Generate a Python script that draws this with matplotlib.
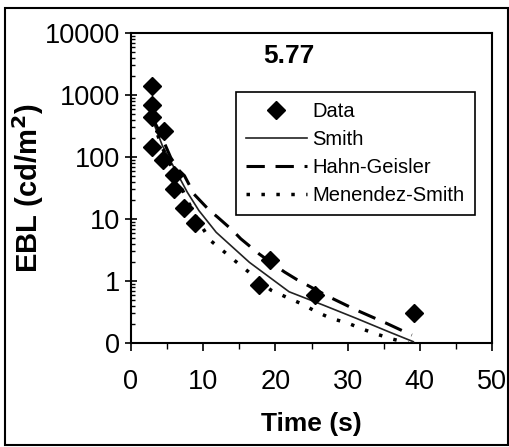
import matplotlib
matplotlib.use("Agg")
import matplotlib.pyplot as plt
from matplotlib.patches import Rectangle

plt.rcParams['font.family'] = ['Liberation Sans', 'DejaVu Sans']

# ---- data ----
data_t = [2.9, 2.9, 2.9, 4.6, 2.9, 4.5, 6.0, 6.0, 7.4, 8.9, 17.7, 19.3, 25.5, 39.2]
data_y = [1400, 700, 440, 260, 146, 90, 51, 31, 15, 8.7, 0.85, 2.2, 0.6, 0.3]

smith_t = [2.9, 3.2, 4.35, 6.2, 7.8, 9.4, 11.8, 16.4, 21.9, 26.6, 31.2, 35.8, 39.1]
smith_y = [420, 337, 152, 60, 27, 13.7, 6.1, 2.0, 0.67, 0.41, 0.25, 0.15, 0.105]

hahn_t = [3.0, 3.9, 5.5, 6.7, 7.4, 8.75, 10.8, 12.0, 14.1, 15.2, 17.8, 21.25, 23.0, 27.5, 31.2, 35.3, 38.9]
hahn_y = [420, 263, 98, 60, 50, 25, 14, 10.7, 6.5, 4.8, 2.7, 1.4, 1.05, 0.55, 0.34, 0.21, 0.134]

mene_t = [3.0, 4.35, 6.2, 7.8, 9.4, 11.0, 12.7, 14.5, 17.0, 19.4, 21.5, 23.6, 25.65, 27.7, 30.0, 32.1, 34.2, 36.3, 38.4]
mene_y = [380, 140, 50, 20, 9, 4.5, 3.1, 2.07, 1.2, 0.71, 0.55, 0.43, 0.32, 0.25, 0.21, 0.167, 0.137, 0.115, 0.1]

y_ticks = [0.1, 1, 10, 100, 1000, 10000]
y_ticklabels = ["0", "1", "10", "100", "1000", "10000"]
x_ticks = [0, 10, 20, 30, 40, 50]
title_text = "5.77"

fig = plt.figure(figsize=(5.10, 4.47), dpi=100)
ax = fig.add_axes([131/510, 104/447, 361/510, 310/447])

ax.plot(smith_t, smith_y, color='#222222', lw=1.2, label='Smith', zorder=3)
ax.plot(hahn_t, hahn_y, color='black', lw=2.2, dashes=(6, 3.5), label='Hahn-Geisler', zorder=3)
ax.plot(mene_t, mene_y, color='black', lw=2.5, dashes=(1, 3.3), dash_capstyle='butt', label='Menendez-Smith', zorder=3)
ax.plot(data_t, data_y, ls='none', marker='D', ms=9.5, color='black', label='Data', zorder=4)

ax.set_yscale('log')
ax.set_ylim(0.1, 10000)
ax.set_xlim(0, 50)
ax.set_yticks(y_ticks)
ax.set_yticklabels(y_ticklabels)
ax.set_xticks(x_ticks)
ax.set_xticks(range(0, 51, 5), minor=True)
ax.tick_params(axis='both', which='major', labelsize=19.5, width=1.2)
ax.tick_params(axis='y', which='major', direction='inout', length=8, pad=4)
ax.tick_params(axis='y', which='minor', direction='in', length=3, width=1)
ax.tick_params(axis='x', which='major', direction='out', length=6, pad=13)
ax.tick_params(axis='x', which='minor', direction='out', length=4, width=1)
for s in ax.spines.values():
    s.set_linewidth(1.5)
    s.set_color('black')

ax.set_xlabel('Time (s)', fontsize=19, fontweight='bold', labelpad=12)
ax.set_ylabel(r'EBL (cd/m$^\mathbf{2}$)', fontsize=21, fontweight='bold')
ax.yaxis.set_label_coords(-0.236, 0.5)
ax.text(0.438, 0.925, title_text, transform=ax.transAxes, ha='center', va='center',
        fontsize=19, fontweight='bold')

handles, labels = ax.get_legend_handles_labels()
order = [3, 0, 1, 2]
leg = ax.legend([handles[i] for i in order], [labels[i] for i in order],
                loc='upper left', bbox_to_anchor=(0.291, 0.81), fontsize=14.5,
                frameon=True, fancybox=False, edgecolor='black', framealpha=1,
                handlelength=3.0, handletextpad=0.3, labelspacing=0.45,
                borderpad=0.5, borderaxespad=0)
leg.get_frame().set_linewidth(1.2)

fig.patches.append(Rectangle((5/510, 2/447), 503/510, 437/447, transform=fig.transFigure,
                             fill=False, edgecolor='black', lw=1.5))

fig.savefig('out.png', dpi=100)
